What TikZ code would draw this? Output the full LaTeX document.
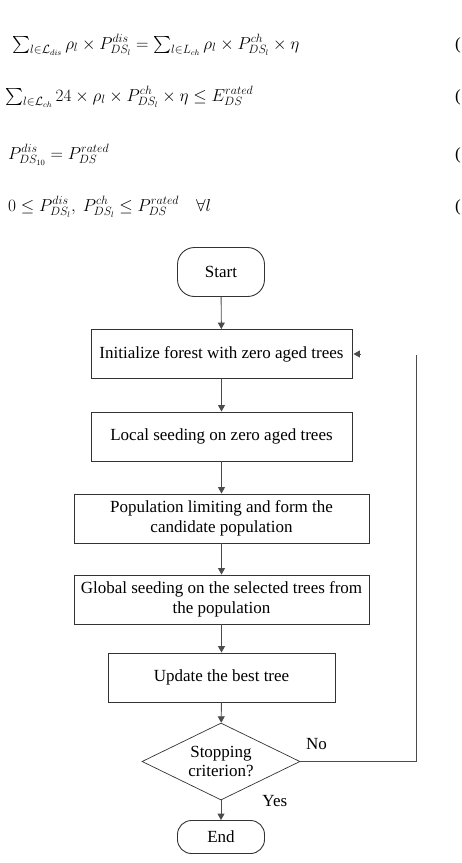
\documentclass[tikz,border=0pt]{standalone}
\usepackage{amsmath,amssymb}
\usepackage{fontspec}
\setmainfont{Liberation Serif}
\usetikzlibrary{arrows.meta,shapes.geometric}

\tikzset{
  line/.style={draw=black!70, line width=0.9pt},
  flow/.style={line, -{Triangle[length=6.5pt,width=7pt]}},
  box/.style={draw=black!80, line width=0.9pt, minimum height=49pt, inner sep=0pt, align=center, font=\fontsize{17}{19.5}\selectfont},
  term/.style={box, rounded corners=17pt, minimum width=87pt},
  decide/.style={box, diamond, aspect=2.05, minimum width=158pt, minimum height=77pt, line width=0.7pt},
  lbl/.style={font=\fontsize{17}{19.5}\selectfont, inner sep=0pt},
  eqn/.style={anchor=west, inner sep=0pt, font=\fontsize{17}{20}\selectfont},
}

\begin{document}
\begin{tikzpicture}[x=1pt, y=-1pt]
\useasboundingbox (0,0) rectangle (461,863);

% equations
\node[eqn] (eq1) at (12,45) {$\sum_{l\in\mathcal{L}_{dis}}\rho_l\times P_{DS_l}^{dis}=\sum_{l\in L_{ch}}\rho_l\times P_{DS_l}^{ch}\times\eta$};
\node[eqn] (eq2) at (5,97) {$\sum_{l\in\mathcal{L}_{ch}}24\times\rho_l\times P_{DS_l}^{ch}\times\eta\le E_{DS}^{rated}$};
\node[eqn] (eq3) at (8,155) {$P_{DS_{10}}^{dis}=P_{DS}^{rated}$};
\node[eqn] (eq4) at (8,207) {$0\le P_{DS_l}^{dis},\ P_{DS_l}^{ch}\le P_{DS}^{rated}\quad\forall l$};
\foreach \y/\n in {45/1,97/2,155/3,207/4}
  \node[eqn, font=\fontsize{17}{20}\selectfont] (par\n) at (455,\y) {(};

% flow chart
\node[term] (start) at (221,272) {Start};
\node[box, minimum width=261pt] (init) at (221.5,354) {Initialize forest with zero aged trees};
\node[box, minimum width=261pt] (local) at (221.5,436.5) {Local seeding on zero aged trees};
\node[box, minimum width=295pt] (limit) at (221.5,518.5) {Population limiting and form the\\candidate population};
\node[box, minimum width=295pt] (global) at (221.5,599.5) {Global seeding on the selected trees from\\the population};
\node[box, minimum width=227pt] (update) at (221.5,677.5) {Update the best tree};
\node[decide] (stop) at (221,761.5) {Stopping\\criterion?};
\node[term, minimum height=33pt, rounded corners=14pt] (end) at (221,837) {End};

\draw[flow] (start) -- (init);
\draw[flow] (init) -- (local);
\draw[flow] (local) -- (limit);
\draw[flow] (limit) -- (global);
\draw[flow] (global) -- (update);
\draw[flow] (update) -- (stop);
\draw[flow] (stop) -- (end) node[lbl, pos=0.05, anchor=west, xshift=41pt]{Yes};

% loop back
\coordinate (turn) at (416,761.5);
\coordinate (back) at (416,355);
\coordinate (stub) at ([xshift=9pt]init.east);
\draw[line] (stop.east) -- (turn) node[lbl, pos=0.14, anchor=south, yshift=11pt]{No} -- (back);
\draw[flow] (stub) -- ([xshift=1pt]init.east);
\end{tikzpicture}
\end{document}
